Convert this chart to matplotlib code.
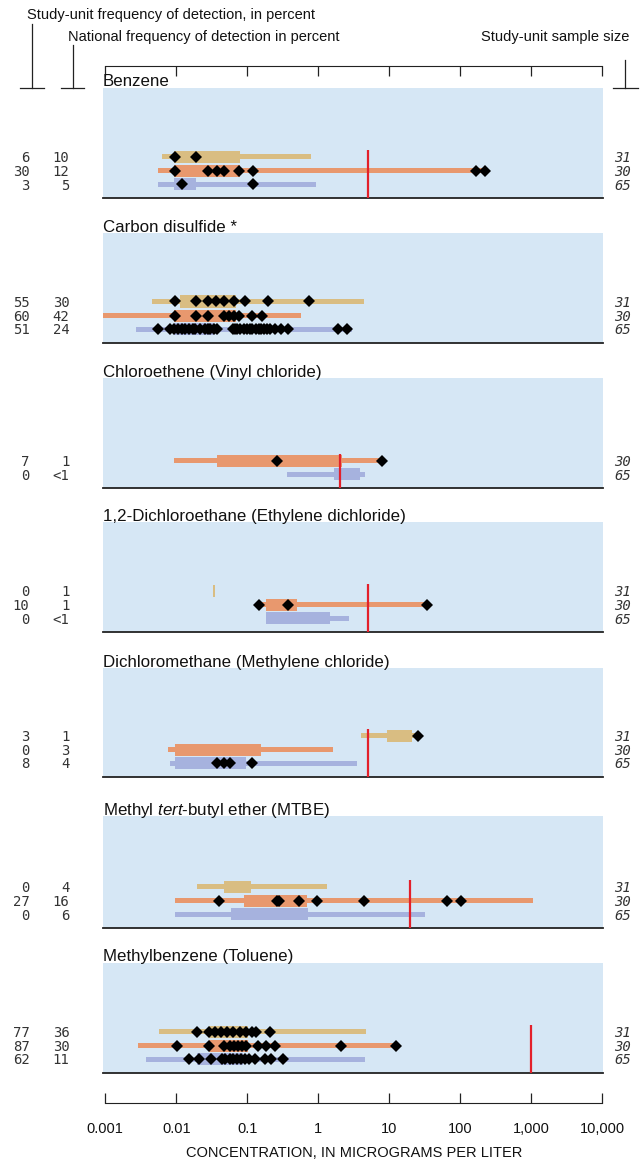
import matplotlib
matplotlib.use("Agg")
import matplotlib.pyplot as plt
from matplotlib.lines import Line2D
from matplotlib.ticker import FixedLocator, NullLocator, FixedFormatter

plt.rcParams['font.family'] = ['Liberation Sans', 'DejaVu Sans']
plt.rcParams['mathtext.fontset'] = 'custom'
plt.rcParams['mathtext.rm'] = 'Liberation Sans'
plt.rcParams['mathtext.it'] = 'Liberation Sans:italic'

# ---------------- data ----------------
TITLES = ["Benzene", "Carbon disulfide *", "Chloroethene (Vinyl chloride)",
          "1,2-Dichloroethane (Ethylene dichloride)",
          "Dichloromethane (Methylene chloride)",
          r"Methyl $\mathit{tert}$-butyl ether (MTBE)",
          "Methylbenzene (Toluene)"]

TICK_VALUES = [0.001, 0.01, 0.1, 1, 10, 100, 1000, 10000]
TICK_LABELS = ["0.001", "0.01", "0.1", "1", "10", "100", "1,000", "10,000"]

# rows: [31-sample, 30-sample, 65-sample]
SAMPLE_SIZES = [["31", "30", "65"], ["31", "30", "65"], [None, "30", "65"],
                ["31", "30", "65"], ["31", "30", "65"], ["31", "30", "65"],
                ["31", "30", "65"]]
STUDY_FREQ = [["6", "30", "3"], ["55", "60", "51"], [None, "7", "0"],
              ["0", "10", "0"], ["3", "0", "8"], ["0", "27", "0"],
              ["77", "87", "62"]]
NATIONAL_FREQ = [["10", "12", "5"], ["30", "42", "24"], [None, "1", "<1"],
                 ["1", "1", "<1"], ["1", "3", "4"], ["4", "16", "6"],
                 ["36", "30", "11"]]
BENCHMARK = [5, None, 2, 5, 5, 20, 1000]

BENZENE_WHISKER = [(0.0064, 0.78), (0.0055, 250), (0.0055, 0.92)]
BENZENE_BOX = [(0.0092, 0.078), (0.0092, 0.078), (0.0092, 0.019)]
BENZENE_DETECTS = [[0.0096, 0.019],
                   [0.0096, 0.028, 0.037, 0.047, 0.076, 0.12, 170, 225],
                   [0.012, 0.12]]

CS2_WHISKER = [(0.0046, 4.4), (0.00093, 0.565), (0.0027, 3.0)]
CS2_BOX = [(0.0114, 0.0685), (0.0092, 0.0685), (0.0092, 0.0345)]
CS2_DETECTS = [[0.0096, 0.0188, 0.0281, 0.0369, 0.0478, 0.0662, 0.0946, 0.195, 0.74],
               [0.0096, 0.0188, 0.0281, 0.0467, 0.055, 0.0647, 0.076, 0.1175, 0.163],
               [0.0055, 0.0083, 0.0092, 0.0105, 0.0121, 0.0135, 0.015, 0.017, 0.0186,
                0.0219, 0.0258, 0.028, 0.0303, 0.034, 0.0377, 0.0626, 0.068, 0.0722,
                0.08, 0.0895, 0.1, 0.11, 0.1175, 0.135, 0.145, 0.154, 0.17, 0.191,
                0.21, 0.25, 0.295, 0.379, 1.92, 2.58]]

VC_WHISKER = [None, (0.0092, 8.0), (0.367, 4.56)]
VC_BOX = [None, (0.037, 2.19), (1.67, 3.88)]
VC_DETECTS = [[], [0.265, 8.0], []]

DCA_WHISKER = [None, (0.145, 34), (0.185, 2.7)]
DCA_BOX = [(0.0328, 0.0350), (0.185, 0.51), (0.185, 1.45)]
DCA_DETECTS = [[], [0.145, 0.38, 34], []]

DCM_WHISKER = [(4.05, 25), (0.0076, 1.6), (0.0083, 3.55)]
DCM_BOX = [(9.4, 20.8), (0.0095, 0.155), (0.0095, 0.097)]
DCM_DETECTS = [[25.5], [], [0.038, 0.047, 0.057, 0.116]]

MTBE_WHISKER = [(0.0197, 1.34), (0.0095, 1050), (0.0095, 32)]
MTBE_BOX = [(0.047, 0.114), (0.091, 0.69), (0.059, 0.72)]
MTBE_DETECTS = [[], [0.040, 0.264, 0.283, 0.535, 0.975, 4.4, 66, 103], []]

TOL_WHISKER = [(0.0058, 4.8), (0.0029, 13.4), (0.0038, 4.6)]
TOL_BOX = [(0.0294, 0.101), (0.0294, 0.101), (0.0197, 0.088)]
TOL_DETECTS = [[0.0197, 0.0294, 0.0357, 0.0434, 0.0527, 0.064, 0.0804, 0.0977,
                0.115, 0.135, 0.211],
               [0.0103, 0.0294, 0.0469, 0.0571, 0.0653, 0.0746, 0.0853, 0.097,
                0.141, 0.185, 0.247, 2.08, 12.5],
               [0.0151, 0.0211, 0.0313, 0.0436, 0.0494, 0.0565, 0.064, 0.0729,
                0.083, 0.0946, 0.1077, 0.127, 0.177, 0.217, 0.315]]

WHISKERS = [BENZENE_WHISKER, CS2_WHISKER, VC_WHISKER, DCA_WHISKER,
            DCM_WHISKER, MTBE_WHISKER, TOL_WHISKER]
BOXES = [BENZENE_BOX, CS2_BOX, VC_BOX, DCA_BOX, DCM_BOX, MTBE_BOX, TOL_BOX]
DETECTS = [BENZENE_DETECTS, CS2_DETECTS, VC_DETECTS, DCA_DETECTS,
           DCM_DETECTS, MTBE_DETECTS, TOL_DETECTS]

# ---------------- style / layout ----------------
ROW_COLORS = ["#D9BD82", "#E8986E", "#A6B2DE"]
BG = "#D6E7F5"
RED = "#E3202A"
W, H = 640, 1160
PANEL_TOP = [88, 233, 378, 522, 668, 816, 963]
PANEL_BOTTOM = [198, 343, 488, 632, 777, 928, 1073]
ROW_OFFSET = [41.5, 27.5, 14]   # pixels above panel bottom
AX_L, AX_R = 103, 603
XLIM = (10 ** -3.032, 10 ** 4.014)
BOX_H, WHISK_H = 12, 5

fig = plt.figure(figsize=(W / 100, H / 100), dpi=100)


def rect(l, t, r, b):
    return [l / W, 1 - b / H, (r - l) / W, (b - t) / H]


def fx(x):
    return x / W


def fy(y):
    return 1 - y / H


MONO = "DejaVu Sans Mono"
TXT = "#333333"

for i, title in enumerate(TITLES):
    top, bot = PANEL_TOP[i], PANEL_BOTTOM[i]
    ph = bot - top
    ax = fig.add_axes(rect(AX_L, top, AX_R, bot))
    ax.set_facecolor(BG)
    ax.set_xscale("log")
    ax.set_xlim(*XLIM)
    ax.set_ylim(0, ph)
    for s in ["top", "left", "right"]:
        ax.spines[s].set_visible(False)
    ax.spines["bottom"].set_color("#222222")
    ax.spines["bottom"].set_linewidth(1.3)
    ax.set_xticks([])
    ax.xaxis.set_minor_locator(NullLocator())
    ax.set_yticks([])

    first_row = None
    for r in range(3):
        y = ROW_OFFSET[r]
        c = ROW_COLORS[r]
        wk = WHISKERS[i][r]
        bx = BOXES[i][r]
        if wk is not None:
            ax.barh(y, wk[1] - wk[0], left=wk[0], height=WHISK_H, color=c,
                    linewidth=0, zorder=2)
        if bx is not None:
            ax.barh(y, bx[1] - bx[0], left=bx[0], height=BOX_H, color=c,
                    linewidth=0, zorder=2)
        det = DETECTS[i][r]
        if det:
            ax.plot(det, [y] * len(det), linestyle="none", marker="D",
                    markersize=5.8, color="black", markeredgewidth=0, zorder=5)
        if (wk is not None or bx is not None) and first_row is None:
            first_row = y
        # side labels
        ypx = bot - y
        if STUDY_FREQ[i][r] is not None:
            fig.text(fx(29.5), fy(ypx), STUDY_FREQ[i][r], ha="right",
                     va="center_baseline", family=MONO, fontsize=10, color=TXT)
            fig.text(fx(69.5), fy(ypx), NATIONAL_FREQ[i][r], ha="right",
                     va="center_baseline", family=MONO, fontsize=10, color=TXT)
        if SAMPLE_SIZES[i][r] is not None:
            fig.text(fx(631), fy(ypx), SAMPLE_SIZES[i][r], ha="right",
                     va="center_baseline", family=MONO, style="italic",
                     fontsize=10, color=TXT)
    if BENCHMARK[i] is not None:
        ax.plot([BENCHMARK[i]] * 2, [0, first_row + 7], color=RED, lw=1.6,
                zorder=4, solid_capstyle="butt")
    fig.text(fx(103), fy(top - 1.5), title, ha="left", va="baseline",
             fontsize=12.2, color="#111111")

# top scale
axT = fig.add_axes([AX_L / W, fy(66), (AX_R - AX_L) / W, 0.0001])
axT.set_xscale("log")
axT.set_xlim(*XLIM)
axT.patch.set_visible(False)
for s in ["top", "left", "right"]:
    axT.spines[s].set_visible(False)
axT.spines["bottom"].set_bounds(TICK_VALUES[0], TICK_VALUES[-1])
axT.spines["bottom"].set_color("#222222")
axT.xaxis.set_major_locator(FixedLocator(TICK_VALUES))
axT.xaxis.set_minor_locator(NullLocator())
axT.tick_params(axis="x", direction="out", length=7, width=0.9,
                labelbottom=False, color="#222222")
axT.set_yticks([])

# bottom scale
axB = fig.add_axes([AX_L / W, fy(1103), (AX_R - AX_L) / W, 0.0001])
axB.set_xscale("log")
axB.set_xlim(*XLIM)
axB.patch.set_visible(False)
for s in ["top", "left", "right"]:
    axB.spines[s].set_visible(False)
axB.spines["bottom"].set_bounds(TICK_VALUES[0], TICK_VALUES[-1])
axB.spines["bottom"].set_color("#222222")
axB.xaxis.set_major_locator(FixedLocator(TICK_VALUES))
axB.xaxis.set_major_formatter(FixedFormatter(TICK_LABELS))
axB.xaxis.set_minor_locator(NullLocator())
axB.tick_params(axis="x", direction="in", length=7.5, width=0.9,
                labelsize=10.5, pad=21.5, color="#222222", labelcolor="#111111")
for lab in axB.get_xticklabels():
    lab.set_verticalalignment("baseline")
axB.set_yticks([])

fig.text(fx(354), fy(1153), "CONCENTRATION, IN MICROGRAMS PER LITER",
         ha="center", va="center", fontsize=10.5, color="#111111")

# header labels and brackets
fig.text(fx(27), fy(15), "Study-unit frequency of detection, in percent",
         ha="left", va="center", fontsize=10.5, color="#111111")
fig.text(fx(67.5), fy(36.5), "National frequency of detection in percent",
         ha="left", va="center", fontsize=10.5, color="#111111")
fig.text(fx(629), fy(36.5), "Study-unit sample size",
         ha="right", va="center", fontsize=10.5, color="#111111")

for xc, ytop, x0, x1 in [(32, 24, 20, 44), (73, 45, 61, 84), (625, 60, 613, 638)]:
    fig.add_artist(Line2D([fx(xc), fx(xc)], [fy(ytop), fy(87.5)],
                          color="#222222", lw=0.9))
    fig.add_artist(Line2D([fx(x0), fx(x1)], [fy(87.5), fy(87.5)],
                          color="#222222", lw=0.9))

fig.savefig("out.png", dpi=100)
